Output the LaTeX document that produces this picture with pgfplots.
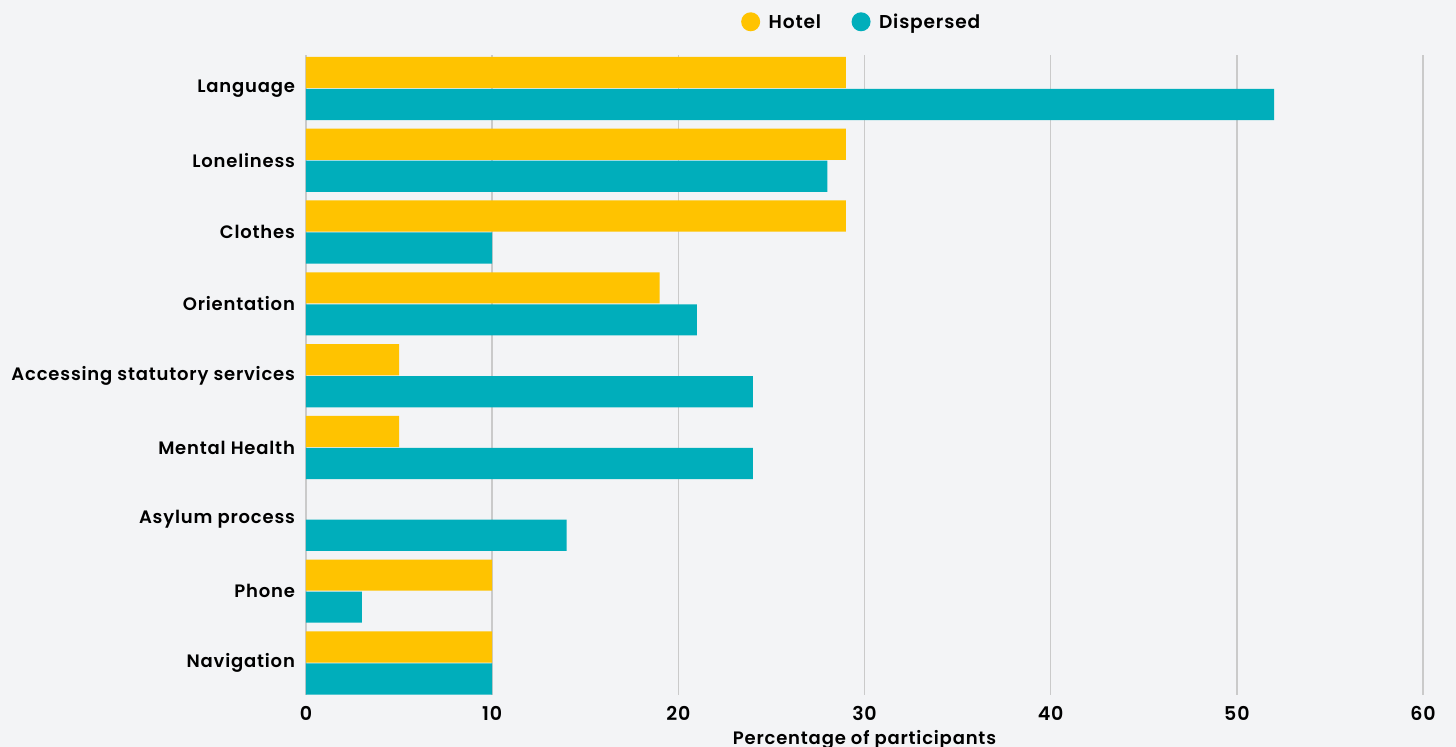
\documentclass[border=0pt]{standalone}
\usepackage{pgfplots}
\pgfplotsset{compat=1.18}
\usepackage{fontspec}
\setmainfont{Poppins}[BoldFont={Poppins SemiBold}, LetterSpace=4.5]
\definecolor{hotel}{HTML}{FFC300}
\definecolor{disp}{HTML}{00AEBB}
\definecolor{bg}{HTML}{F3F4F6}
\definecolor{gridc}{HTML}{CACACA}
\begin{document}
\begin{tikzpicture}[x=0.5pt,y=0.5pt]
\clip (0,0) rectangle (1456,747);
\fill[bg] (0,0) rectangle (1456,747);
\begin{axis}[
  at={(153pt,26pt)}, anchor=south west,
  scale only axis, width=558.5pt, height=320pt,
  xbar, bar width=15.6pt,
  xmin=0, xmax=60, ymin=-0.446, ymax=8.466,
  xtick={0,10,...,60},
  ytick={0,...,8},
  yticklabels={Navigation,Phone,Asylum process,Mental Health,Accessing statutory services,Orientation,Clothes,Loneliness,Language},
  axis line style={draw=none},
  major tick length=0pt,
  xmajorgrids, grid style={gridc, line width=0.7pt},
  ticklabel style={font=\bfseries\fontsize{9}{10}\selectfont, text=black},
  xticklabel style={font=\bfseries\fontsize{9.5}{10}\selectfont, yshift=-2pt},
  yticklabel style={xshift=-2pt},
  /pgf/number format/assume math mode=true,
  xlabel={Percentage of participants},
  xlabel style={font=\bfseries\fontsize{9}{10}\selectfont, yshift=2pt},
  legend style={at={(0.4984,1.05)}, anchor=center, draw=none, fill=none,
    legend columns=2, font=\bfseries\fontsize{9.3}{10}\selectfont,
    /tikz/every even column/.append style={column sep=13.25pt}},
  legend image code/.code={\fill[#1] (-1.2pt,0.6pt) circle (4.75pt); \path (5.8pt,0.6pt);},
  clip=false,
]
\addplot[fill=hotel, draw=none, bar shift=8pt] coordinates {
(10,0) (10,1) (5,3) (5,4) (19,5) (29,6) (29,7) (29,8)};
\addlegendentry{Hotel}
\addplot[fill=disp, draw=none, bar shift=-8pt] coordinates {
(10,0) (3,1) (14,2) (24,3) (24,4) (21,5) (10,6) (28,7) (52,8)};
\addlegendentry{Dispersed}
\end{axis}
\end{tikzpicture}
\end{document}
